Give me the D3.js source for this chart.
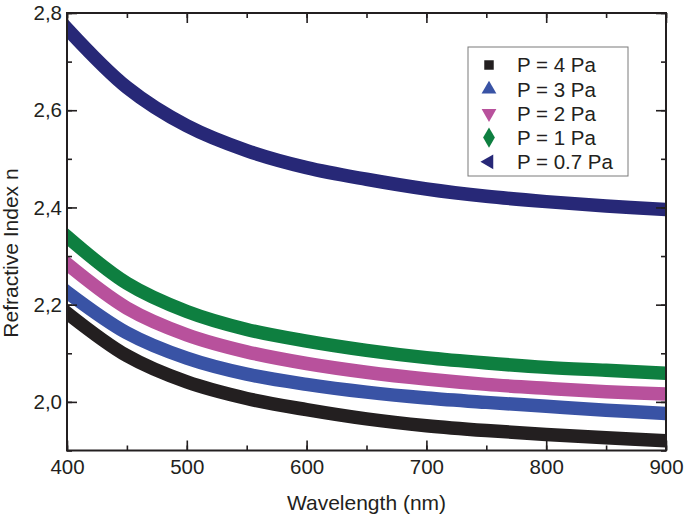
<!DOCTYPE html>
<html>
<head>
<meta charset="utf-8">
<script src="https://cdn.jsdelivr.net/npm/d3@7"></script>
<style>
  body { margin: 0; background: #fff; }
  text { font-family: "Liberation Sans", Arial, sans-serif; fill: #231f20; }
</style>
</head>
<body>
<svg id="chart" width="686" height="516"></svg>
<script>
// wavelengths (nm)
const wavelength = [400, 450, 500, 550, 600, 650, 700, 750, 800, 850, 900];

// refractive index per pressure
const n4Pa  = [2.183, 2.095, 2.041, 2.007, 1.984, 1.965, 1.951, 1.941, 1.933, 1.926, 1.920];
const n3Pa  = [2.226, 2.142, 2.090, 2.057, 2.036, 2.020, 2.008, 1.999, 1.991, 1.983, 1.976];
const n2Pa  = [2.284, 2.193, 2.138, 2.103, 2.079, 2.061, 2.047, 2.036, 2.028, 2.021, 2.016];
const n1Pa  = [2.340, 2.244, 2.186, 2.149, 2.125, 2.106, 2.091, 2.080, 2.071, 2.065, 2.059];
const n07Pa = [2.768, 2.647, 2.568, 2.517, 2.482, 2.458, 2.438, 2.423, 2.412, 2.403, 2.396];

const seriesNames = ["P = 4 Pa", "P = 3 Pa", "P = 2 Pa", "P = 1 Pa", "P = 0.7 Pa"];
const seriesValues = [n4Pa, n3Pa, n2Pa, n1Pa, n07Pa];
const seriesColors = ["#231f20", "#3953a5", "#b8519c", "#0e7f40", "#272877"];
const seriesSymbols = [d3.symbolSquare, "up", "down", d3.symbolDiamond, "left"];

const xTicks = [400, 500, 600, 700, 800, 900];
const yTicks = [2.0, 2.2, 2.4, 2.6, 2.8];
const yTickLabels = ["2,0", "2,2", "2,4", "2,6", "2,8"];

const mLeft = 67, mRight = 666, mTop = 13, mBottom = 450.5;
const axisColor = "#231f20";

const svg = d3.select("#chart");

const x = d3.scaleLinear().domain([400, 900]).range([mLeft, mRight]);
const y = d3.scaleLinear().domain([1.9, 2.8]).range([mBottom, mTop]);

svg.append("clipPath").attr("id", "plot")
  .append("rect")
  .attr("x", mLeft).attr("y", mTop)
  .attr("width", mRight - mLeft).attr("height", mBottom - mTop);

// the curves (drawn as thick bands, like dense scatter points)
const line = d3.line()
  .x((d, i) => x(wavelength[i]))
  .y(d => y(d))
  .curve(d3.curveCatmullRom.alpha(0.5));

const curves = svg.append("g").attr("clip-path", "url(#plot)");
seriesValues.forEach((vals, k) => {
  curves.append("path")
    .attr("d", line(vals))
    .attr("fill", "none")
    .attr("stroke", seriesColors[k])
    .attr("stroke-width", 13.5)
    .attr("stroke-linecap", "square");
});

// axes: ticks point inwards on all four sides
function minor(step, lo, hi) {
  const out = [];
  for (let v = lo; v <= hi + 1e-9; v += step) out.push(+v.toFixed(3));
  return out;
}
const xMinor = minor(50, 400, 900);
const yMinor = minor(0.1, 1.9, 2.8);

function styleAxis(g) {
  g.select(".domain").remove();
  g.selectAll("line").attr("stroke", axisColor).attr("stroke-width", 1.6);
  g.selectAll("text").style("font-size", "20.5px").attr("fill", axisColor);
}

// bottom
svg.append("g").attr("transform", `translate(0,${mBottom})`)
  .call(d3.axisBottom(x).tickValues(xMinor).tickSize(-5).tickFormat(""))
  .call(styleAxis);
svg.append("g").attr("transform", `translate(0,${mBottom})`)
  .call(d3.axisBottom(x).tickValues(xTicks).tickSize(-10).tickPadding(9).tickFormat(d3.format("d")))
  .call(styleAxis);
// top
svg.append("g").attr("transform", `translate(0,${mTop})`)
  .call(d3.axisTop(x).tickValues(xMinor).tickSize(-5).tickFormat(""))
  .call(styleAxis);
svg.append("g").attr("transform", `translate(0,${mTop})`)
  .call(d3.axisTop(x).tickValues(xTicks).tickSize(-10).tickFormat(""))
  .call(styleAxis);
// left
svg.append("g").attr("transform", `translate(${mLeft},0)`)
  .call(d3.axisLeft(y).tickValues(yMinor).tickSize(-5).tickFormat(""))
  .call(styleAxis);
svg.append("g").attr("transform", `translate(${mLeft},0)`)
  .call(d3.axisLeft(y).tickValues(yTicks).tickSize(-10).tickPadding(5)
    .tickFormat((d, i) => yTickLabels[i]))
  .call(styleAxis);
// right
svg.append("g").attr("transform", `translate(${mRight},0)`)
  .call(d3.axisRight(y).tickValues(yMinor).tickSize(-5).tickFormat(""))
  .call(styleAxis);
svg.append("g").attr("transform", `translate(${mRight},0)`)
  .call(d3.axisRight(y).tickValues(yTicks).tickSize(-10).tickFormat(""))
  .call(styleAxis);

// frame
svg.append("rect")
  .attr("x", mLeft).attr("y", mTop)
  .attr("width", mRight - mLeft).attr("height", mBottom - mTop)
  .attr("fill", "none")
  .attr("stroke", axisColor)
  .attr("stroke-width", 2);

// axis titles
svg.append("text")
  .attr("x", (mLeft + mRight) / 2).attr("y", 510)
  .attr("text-anchor", "middle")
  .style("font-size", "21px")
  .text("Wavelength (nm)");

svg.append("text")
  .attr("transform", "translate(18,253) rotate(-90)")
  .attr("text-anchor", "middle")
  .style("font-size", "21px")
  .text("Refractive Index n");

// legend
const legend = svg.append("g");
legend.append("rect")
  .attr("x", 468).attr("y", 47)
  .attr("width", 160).attr("height", 129)
  .attr("fill", "#fff")
  .attr("stroke", "#7a7a7a")
  .attr("stroke-width", 1);

const tri = d3.symbol().type(d3.symbolTriangle).size(95);
seriesNames.forEach((name, k) => {
  const cy = 65 + k * 24.2;
  const g = legend.append("g").attr("transform", `translate(489,${cy})`);
  const s = seriesSymbols[k];
  if (s === "up" || s === "down" || s === "left") {
    const rot = s === "up" ? 0 : s === "down" ? 180 : -90;
    g.append("path").attr("d", tri()).attr("fill", seriesColors[k])
      .attr("transform", `rotate(${rot})`);
  } else {
    g.append("path")
      .attr("d", d3.symbol().type(s).size(s === d3.symbolSquare ? 90 : 120)())
      .attr("fill", seriesColors[k]);
  }
  legend.append("text")
    .attr("x", 517).attr("y", cy)
    .attr("dy", "0.36em")
    .style("font-size", "20.5px")
    .text(name);
});
</script>
</body>
</html>
